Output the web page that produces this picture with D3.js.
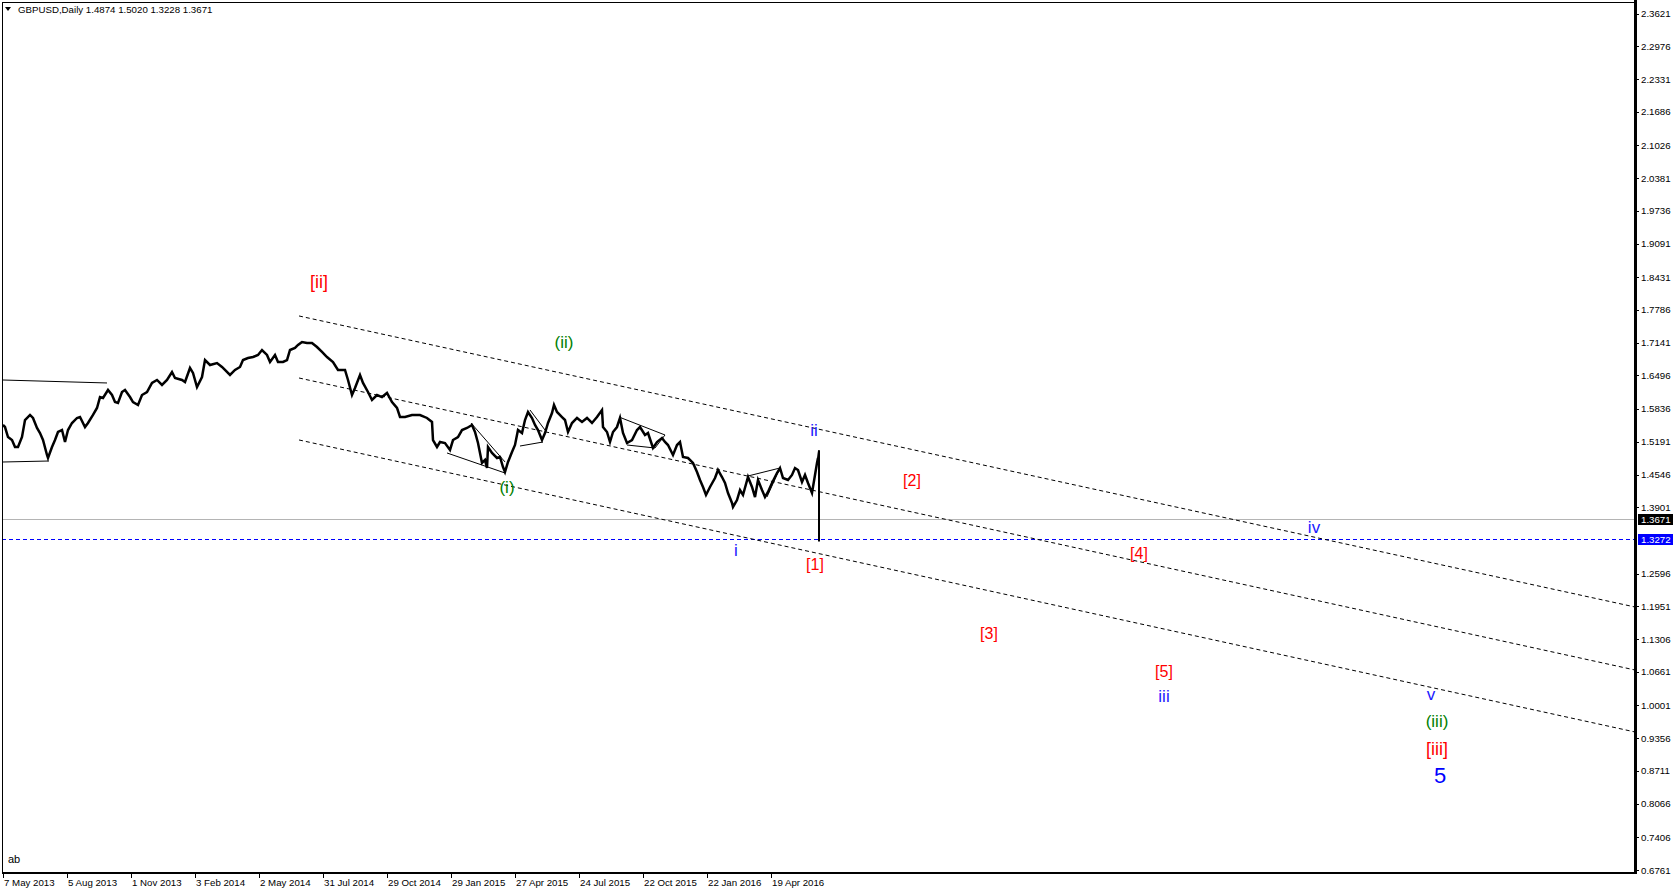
<!DOCTYPE html>
<html><head><meta charset="utf-8">
<script src="https://cdn.jsdelivr.net/npm/d3@7"></script>
<style>
html,body{margin:0;padding:0;background:#fff;overflow:hidden;}
svg{display:block;}
text{font-family:"Liberation Sans",Arial,sans-serif;}
</style></head><body>
<svg id="c" width="1676" height="894"></svg>
<script>
// ---------- DATA ----------
const symbolTitle = "GBPUSD,Daily";
const lastBarOHLC = [1.4874, 1.5020, 1.3228, 1.3671];   // open, high, low, close
const lastBarIndex = 816;
const bidPrice = 1.3671;
const levelPrice = 1.3272;

const yTickValues = [2.3621,2.2976,2.2331,2.1686,2.1026,2.0381,1.9736,1.9091,1.8431,1.7786,1.7141,1.6496,1.5836,1.5191,1.4546,1.3901,1.2596,1.1951,1.1306,1.0661,1.0001,0.9356,0.8711,0.8066,0.7406,0.6761];
const xTickBars = [0,64,128,192,256,320,384,448,512,576,640,704,768];
const xTickLabels = ["7 May 2013","5 Aug 2013","1 Nov 2013","3 Feb 2014","2 May 2014","31 Jul 2014","29 Oct 2014","29 Jan 2015","27 Apr 2015","24 Jul 2015","22 Oct 2015","22 Jan 2016","19 Apr 2016"];

const priceBars = [0,2,5,9,12,15,19,22,27,30,34,37,40,44,45,49,52,55,59,62,65,69,74,77,82,85,90,94,97,100,105,109,112,115,119,122,127,130,135,139,144,149,154,159,164,169,172,179,182,187,190,194,199,202,207,214,219,227,232,237,240,245,250,255,259,264,267,272,275,280,284,287,292,295,299,304,309,314,319,324,330,335,342,345,349,352,357,360,365,369,374,379,384,389,394,397,402,409,417,424,429,430,434,437,442,447,450,455,459,464,469,472,475,479,482,484,485,489,494,497,500,502,505,509,512,515,519,522,525,529,532,535,539,542,545,549,551,554,559,562,565,569,574,579,584,589,594,599,600,604,607,610,614,617,620,624,629,634,637,642,645,650,654,659,662,665,670,674,677,680,685,690,694,697,700,703,707,712,715,719,722,725,729,730,734,737,740,745,749,752,755,759,762,765,769,774,777,780,785,789,792,795,799,802,805,809,812,814,815];
const priceCloses = [1.5521,1.5481,1.5284,1.5225,1.5088,1.5088,1.5284,1.5619,1.5718,1.5659,1.5462,1.5363,1.5225,1.4930,1.4871,1.5088,1.5225,1.5383,1.5422,1.5186,1.5422,1.5560,1.5659,1.5678,1.5481,1.5560,1.5718,1.5856,1.6071,1.6052,1.6210,1.6111,1.5973,1.5954,1.6170,1.6210,1.6071,1.5973,1.5914,1.6111,1.6170,1.6348,1.6407,1.6308,1.6407,1.6564,1.6446,1.6407,1.6367,1.6643,1.6545,1.6269,1.6466,1.6800,1.6702,1.6741,1.6663,1.6505,1.6604,1.6663,1.6800,1.6840,1.6859,1.6899,1.6997,1.6899,1.6761,1.6899,1.6761,1.6761,1.6800,1.6997,1.7037,1.7096,1.7155,1.7135,1.7135,1.7056,1.6958,1.6859,1.6761,1.6604,1.6604,1.6407,1.6111,1.6249,1.6505,1.6348,1.6170,1.6013,1.6111,1.6071,1.6151,1.5973,1.5856,1.5678,1.5678,1.5718,1.5718,1.5659,1.5580,1.5225,1.5088,1.5186,1.5166,1.5029,1.5225,1.5284,1.5422,1.5462,1.5521,1.5383,1.5166,1.4773,1.4832,1.4674,1.5088,1.4970,1.4871,1.4891,1.4694,1.4596,1.4793,1.4989,1.5127,1.5422,1.5363,1.5619,1.5777,1.5659,1.5521,1.5422,1.5225,1.5363,1.5560,1.5757,1.5915,1.5777,1.5678,1.5619,1.5383,1.5560,1.5659,1.5580,1.5659,1.5560,1.5678,1.5816,1.5481,1.5383,1.5186,1.5383,1.5481,1.5659,1.5363,1.5166,1.5225,1.5422,1.5481,1.5324,1.5363,1.5068,1.5186,1.5265,1.5186,1.5127,1.4930,1.5127,1.5186,1.4891,1.4871,1.4773,1.4596,1.4438,1.4300,1.4143,1.4300,1.4477,1.4635,1.4497,1.4379,1.4182,1.3986,1.3907,1.4044,1.4241,1.4143,1.4497,1.4300,1.4103,1.4438,1.4241,1.4103,1.4202,1.4379,1.4576,1.4674,1.4477,1.4438,1.4537,1.4674,1.4635,1.4399,1.4537,1.4379,1.4182,1.4537,1.4773,1.4871];

// user-drawn trend lines: [bar1, price1, bar2, price2]
const trendLines = [
  [-1,1.6407,104,1.6348],
  [-1,1.4792,46,1.4812],
  [444,1.4970,502,1.4576],
  [468,1.5560,502,1.4793],
  [517,1.5107,540,1.5186],
  [527,1.5816,542,1.5422],
  [616,1.5678,662,1.5324],
  [624,1.5127,652,1.5068],
  [652,1.5068,662,1.5324],
  [745,1.4517,777,1.4674],
  [764,1.4104,777,1.4674]
];
// dotted channel lines: [bar1, price1, bar2, price2]
const channelLines = [
  [296,1.7667,1632,1.1938],
  [296,1.6446,1632,1.0698],
  [296,1.5226,1632,0.9478]
];

// Elliott wave labels
const waveTexts  = ["[ii]","(ii)","(i)","ii","i","[1]","[2]","[3]","[4]","iv","[5]","iii","v","(iii)","[iii]","5"];
const waveBars   = [316,561,504,811,733,812,909,986,1136,1311,1161,1161,1428,1434,1434,1437];
const waveLevels = [1.8336,1.7135,1.4281,1.5422,1.3060,1.2765,1.4438,1.1407,1.2982,1.3494,1.0659,1.0167,1.0206,0.9694,0.9143,0.8631];
const waveDegree = ["primary","minor","minor","minute","minute","sub","sub","sub","sub","minute","sub","minute","minute","minor","primary","cycle"];

// ---------- STYLES ----------
const degreeStyle = {
  primary:{fill:"#ff0000", size:18},
  sub:{fill:"#ff0000", size:16},
  minor:{fill:"#008000", size:17},
  minute:{fill:"#1a1aff", size:17},
  cycle:{fill:"#0000ff", size:22}
};

// ---------- CHART ----------
const svg = d3.select("#c");
const W = 1676, H = 894;
const plotLeft = 2, plotTop = 2, plotRight = 1635, plotBottom = 873;

const x = d3.scaleLinear().domain([0, 1632]).range([3, 1635]);
const y = d3.scaleLinear().domain([0.6761, 2.3621]).range([870, 13.5]);

svg.append("rect").attr("width", W).attr("height", H).attr("fill", "#fff");

svg.append("defs").append("clipPath").attr("id","pc")
  .append("rect").attr("x",plotLeft).attr("y",plotTop).attr("width",plotRight-plotLeft).attr("height",plotBottom-plotTop);
const plot = svg.append("g").attr("clip-path","url(#pc)");

// bid line (grey) and level line (blue dashed)
plot.append("line").attr("x1",plotLeft).attr("x2",plotRight)
  .attr("y1",Math.round(y(bidPrice))+0.5).attr("y2",Math.round(y(bidPrice))+0.5)
  .attr("stroke","#b4b4b4").attr("stroke-width",1);
plot.append("line").attr("x1",plotLeft).attr("x2",plotRight)
  .attr("y1",Math.round(y(levelPrice))+0.5).attr("y2",Math.round(y(levelPrice))+0.5)
  .attr("stroke","#0000ff").attr("stroke-width",1).attr("stroke-dasharray","4,3");

// channel lines
plot.selectAll("line.ch").data(channelLines).join("line").attr("class","ch")
  .attr("x1",d=>x(d[0])).attr("y1",d=>y(d[1])).attr("x2",d=>x(d[2])).attr("y2",d=>y(d[3]))
  .attr("stroke","#000").attr("stroke-width",1).attr("stroke-dasharray","4,3");

// trend lines
plot.selectAll("line.tl").data(trendLines).join("line").attr("class","tl")
  .attr("x1",d=>x(d[0])).attr("y1",d=>y(d[1])).attr("x2",d=>x(d[2])).attr("y2",d=>y(d[3]))
  .attr("stroke","#000").attr("stroke-width",1);

// price line
const pts = priceBars.map((b,i)=>[b, priceCloses[i]]);
plot.append("path").datum(pts)
  .attr("d", d3.line().x(d=>x(d[0])).y(d=>y(d[1])))
  .attr("fill","none").attr("stroke","#000").attr("stroke-width",2.5).attr("stroke-linejoin","miter");
// last bar (OHLC)
plot.append("line").attr("x1",x(lastBarIndex)).attr("x2",x(lastBarIndex))
  .attr("y1",y(lastBarOHLC[1])).attr("y2",y(lastBarOHLC[2]))
  .attr("stroke","#000").attr("stroke-width",2);
plot.append("line").attr("x1",x(priceBars[priceBars.length-1])).attr("x2",x(lastBarIndex))
  .attr("y1",y(priceCloses[priceCloses.length-1])).attr("y2",y(lastBarOHLC[1]))
  .attr("stroke","#000").attr("stroke-width",2);

// wave labels
plot.selectAll("text.w").data(waveTexts).join("text").attr("class","w")
  .attr("x",(d,i)=>x(waveBars[i])).attr("y",(d,i)=>y(waveLevels[i]))
  .attr("text-anchor","middle").attr("dominant-baseline","central")
  .attr("fill",(d,i)=>degreeStyle[waveDegree[i]].fill)
  .attr("font-size",(d,i)=>degreeStyle[waveDegree[i]].size+"px")
  .text(d=>d);

// frame
svg.append("line").attr("x1",plotLeft+0.5).attr("x2",plotLeft+0.5).attr("y1",plotTop).attr("y2",plotBottom).attr("stroke","#000");
svg.append("line").attr("x1",plotLeft).attr("x2",plotRight).attr("y1",plotTop+0.5).attr("y2",plotTop+0.5).attr("stroke","#000");
svg.append("line").attr("x1",plotLeft).attr("x2",plotRight+2).attr("y1",plotBottom).attr("y2",plotBottom).attr("stroke","#000").attr("stroke-width",2);
svg.append("line").attr("x1",plotRight+0.5).attr("x2",plotRight+0.5).attr("y1",0).attr("y2",plotBottom+1).attr("stroke","#000").attr("stroke-width",3);

// right axis
const yAxisG = svg.append("g");
yAxisG.selectAll("line").data(yTickValues).join("line")
  .attr("x1",plotRight+2).attr("x2",plotRight+4)
  .attr("y1",d=>Math.round(y(d))+0.5).attr("y2",d=>Math.round(y(d))+0.5).attr("stroke","#000");
yAxisG.selectAll("text").data(yTickValues).join("text")
  .attr("x",plotRight+6).attr("y",d=>y(d)).attr("dominant-baseline","central")
  .attr("font-size","9.7px").attr("fill","#000").text(d=>d.toFixed(4));

// highlighted price labels
[[bidPrice,"#000"],[levelPrice,"#0000ff"]].forEach(([v,c])=>{
  svg.append("rect").attr("x",plotRight+3).attr("y",Math.round(y(v))-5).attr("width",35).attr("height",11).attr("fill",c);
  svg.append("text").attr("x",plotRight+6).attr("y",y(v)+0.5).attr("dominant-baseline","central")
    .attr("font-size","9.7px").attr("fill","#fff").text(v.toFixed(4));
});

// bottom axis
const xAxisG = svg.append("g");
xAxisG.selectAll("line").data(xTickBars).join("line")
  .attr("x1",d=>Math.round(x(d))+0.5).attr("x2",d=>Math.round(x(d))+0.5)
  .attr("y1",plotBottom).attr("y2",plotBottom+5).attr("stroke","#000");
xAxisG.selectAll("text").data(xTickLabels).join("text")
  .attr("x",(d,i)=>x(xTickBars[i])+1).attr("y",886)
  .attr("font-size","9.7px").attr("fill","#000").text(d=>d);

// title
svg.append("path").attr("d","M5,7 L11,7 L8,11 Z").attr("fill","#000");
svg.append("text").attr("x",18).attr("y",13).attr("font-size","9.7px").attr("fill","#000")
  .text(symbolTitle + "  " + lastBarOHLC.map(v=>v.toFixed(4)).join(" "));
svg.append("text").attr("x",8).attr("y",863).attr("font-size","11px").attr("fill","#000").text("ab");
</script>
</body></html>
